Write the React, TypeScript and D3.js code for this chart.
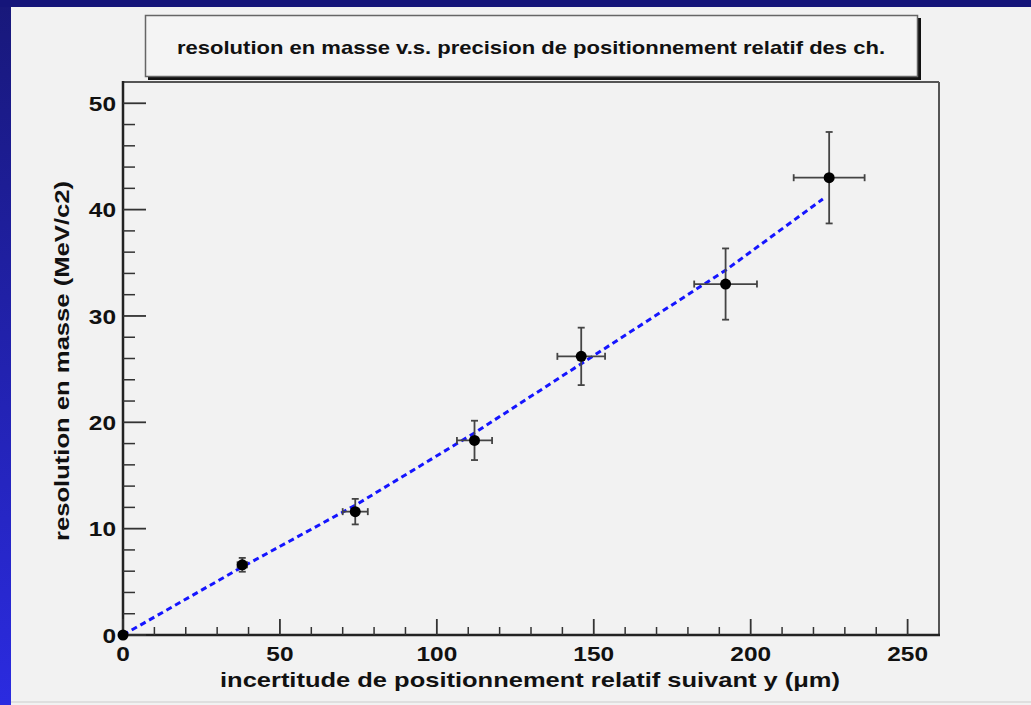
import * as d3 from 'd3';

const W = 1031;
const H = 705;

// measured points
const xVals = [0, 38, 74, 112, 146, 192, 225];
const yVals = [0, 6.6, 11.6, 18.3, 26.2, 33.0, 43.0];
const xErrs = [0, 1.5, 4, 5.6, 7.6, 10, 11.3];
const yErrs = [0, 0.65, 1.2, 1.85, 2.7, 3.35, 4.3];

// fit curve
const fitX = [0, 38, 74, 112, 147, 192, 223];
const fitY = [0, 6.4, 12.2, 19.0, 25.7, 34.3, 41.0];

const xMajor = [0, 50, 100, 150, 200, 250];
const yMajor = [0, 10, 20, 30, 40, 50];

const title = 'resolution en masse v.s. precision de positionnement relatif des ch.';
const xTitle = 'incertitude de positionnement relatif suivant y (\u03bcm)';
const yTitle = 'resolution en masse (MeV/c2)';

const left = 123;
const right = 939;
const top = 82;
const bottom = 635;

const font = '"Liberation Sans", Arial, Helvetica, sans-serif';
const digitW = 13.6;

export default function App() {
  const x = d3.scaleLinear([0, 260], [left, right]);
  const y = d3.scaleLinear([0, 52], [bottom, top]);
  const line = d3.line<number>((_, i) => x(fitX[i]), (d) => y(d));

  const xMinor = d3.range(0, 260, 10).filter((v) => v % 50 !== 0);
  const yMinor = d3.range(0, 52, 2).filter((v) => v % 10 !== 0);

  return (
    <svg
      width={W}
      height={H}
      style={{ position: 'absolute', left: 0, top: 0 }}
      fontFamily={font}
      fontWeight="bold"
    >
      <defs>
        <linearGradient id="side" x1="0" y1="0" x2="0" y2="1">
          <stop offset="0" stopColor="#18187a" />
          <stop offset="1" stopColor="#2b2be0" />
        </linearGradient>
      </defs>
      <rect x={0} y={0} width={W} height={H} fill="url(#side)" />
      <rect x={0} y={0} width={W} height={7} fill="#15157a" />
      <rect x={11} y={7} width={W - 11} height={H - 7} fill="#f2f2f2" />
      <line x1={11} x2={W} y1={702} y2={702} stroke="#d8d8d8" strokeWidth={1.5} />

      {/* title box */}
      <rect x={148} y={18} width={773} height={62} fill="#111" />
      <rect x={145.5} y={15.5} width={772} height={61} fill="#f4f4f4" stroke="#666" strokeWidth={1.5} />
      <text
        x={531}
        y={54}
        fontSize={18.5}
        textAnchor="middle"
        textLength={708}
        lengthAdjust="spacingAndGlyphs"
        fill="#111"
      >
        {title}
      </text>

      {/* frame */}
      <line x1={left} x2={right} y1={top} y2={top} stroke="#555" strokeWidth={2} />
      <line x1={right} x2={right} y1={top} y2={bottom} stroke="#555" strokeWidth={2} />
      <line x1={left} x2={left} y1={top - 1} y2={bottom + 1} stroke="#222" strokeWidth={2.5} />
      <line x1={left - 1} x2={right + 1} y1={bottom} y2={bottom} stroke="#222" strokeWidth={2.5} />

      {/* y ticks */}
      {yMajor.map((v) => (
        <g key={'ym' + v}>
          <line x1={left} x2={left + 23} y1={y(v)} y2={y(v)} stroke="#333" strokeWidth={1.8} />
          <text
            x={116}
            y={y(v)}
            dy="0.36em"
            fontSize={21}
            textAnchor="end"
            textLength={String(v).length * digitW}
            lengthAdjust="spacingAndGlyphs"
            fill="#111"
          >
            {v}
          </text>
        </g>
      ))}
      {yMinor.map((v) => (
        <line key={'yn' + v} x1={left} x2={left + 12} y1={y(v)} y2={y(v)} stroke="#333" strokeWidth={1.5} />
      ))}

      {/* x ticks */}
      {xMajor.map((v) => (
        <g key={'xm' + v}>
          <line x1={x(v)} x2={x(v)} y1={bottom} y2={bottom - 16} stroke="#333" strokeWidth={1.8} />
          <text
            x={x(v)}
            y={661}
            fontSize={21}
            textAnchor="middle"
            textLength={String(v).length * digitW}
            lengthAdjust="spacingAndGlyphs"
            fill="#111"
          >
            {v}
          </text>
        </g>
      ))}
      {xMinor.map((v) => (
        <line key={'xn' + v} x1={x(v)} x2={x(v)} y1={bottom} y2={bottom - 8} stroke="#333" strokeWidth={1.5} />
      ))}

      {/* axis titles */}
      <text
        x={530}
        y={687}
        fontSize={21}
        textAnchor="middle"
        textLength={620}
        lengthAdjust="spacingAndGlyphs"
        fill="#111"
      >
        {xTitle}
      </text>
      <text
        transform={`translate(69,361) rotate(-90)`}
        fontSize={21}
        textAnchor="middle"
        textLength={360}
        lengthAdjust="spacingAndGlyphs"
        fill="#111"
      >
        {yTitle}
      </text>

      {/* fit */}
      <path
        d={line(fitY) ?? ''}
        fill="none"
        stroke="#1515ff"
        strokeWidth={3}
        strokeDasharray="6 4"
      />

      {/* error bars and points */}
      {xVals.map((xv, i) => {
        const cx = x(xv);
        const cy = y(yVals[i]);
        const x0 = x(xv - xErrs[i]);
        const x1 = x(xv + xErrs[i]);
        const y0 = y(yVals[i] - yErrs[i]);
        const y1 = y(yVals[i] + yErrs[i]);
        return (
          <g key={'p' + i} stroke="#444" strokeWidth={1.8}>
            {xErrs[i] > 0 && (
              <>
                <line x1={x0} x2={x1} y1={cy} y2={cy} />
                <line x1={x0} x2={x0} y1={cy - 3.5} y2={cy + 3.5} />
                <line x1={x1} x2={x1} y1={cy - 3.5} y2={cy + 3.5} />
              </>
            )}
            {yErrs[i] > 0 && (
              <>
                <line x1={cx} x2={cx} y1={y0} y2={y1} />
                <line x1={cx - 3.5} x2={cx + 3.5} y1={y0} y2={y0} />
                <line x1={cx - 3.5} x2={cx + 3.5} y1={y1} y2={y1} />
              </>
            )}
            <circle cx={cx} cy={cy} r={5.5} fill="#000" stroke="none" />
          </g>
        );
      })}
    </svg>
  );
}
